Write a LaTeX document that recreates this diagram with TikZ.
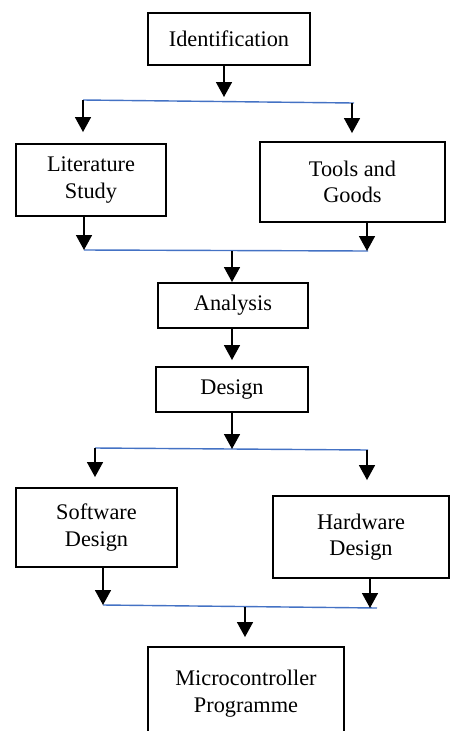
\documentclass[tikz,border=0pt]{standalone}
\usepackage{fontspec}
\setmainfont{Liberation Serif}
\usetikzlibrary{arrows.meta}
\definecolor{busblue}{RGB}{68,114,196}

\begin{document}
\begin{tikzpicture}[x=0.02cm, y=-0.02cm,
	box/.style={draw=black, line width=1.1pt, inner sep=0pt, align=center, font=\fontsize{12.7}{15}\selectfont},
	arr/.style={line width=0.9pt, -{Triangle[width=0.32cm, length=0.3cm]}},
	bus/.style={busblue, line width=0.8pt}]
	%page size, the last box runs off the bottom
	\useasboundingbox (0,0) rectangle (450,731);
	\clip (0,0) rectangle (450,731);

	%boxes
	\node[box, minimum width=3.24cm, minimum height=1.04cm] (ident) at (229,39) {Identification};
	\node[box, minimum width=3.0cm, minimum height=1.44cm] (lit) at (91,180) {Literature\\Study};
	\node[box, minimum width=3.7cm, minimum height=1.6cm] (tools) at (352.5,182) {Tools and\\Goods};
	\node[box, minimum width=3.0cm, minimum height=0.9cm] (ana) at (233,305.5) {Analysis};
	\node[box, minimum width=3.04cm, minimum height=0.9cm] (des) at (232,389.5) {Design};
	\node[box, minimum width=3.22cm, minimum height=1.58cm] (soft) at (96.5,527.5) {Software\\Design};
	\node[box, minimum width=3.52cm, minimum height=1.64cm] (hard) at (361,537) {Hardware\\Design};
	\node[box, minimum width=3.92cm, minimum height=1.86cm] (micro) at (246,693.5) {Microcontroller\\Programme};

	%blue split and join lines
	\coordinate (b1l) at (83,100);  \coordinate (b1m) at (224,101); \coordinate (b1r) at (352,103);
	\coordinate (b2l) at (84,250);  \coordinate (b2m) at (232,251); \coordinate (b2r) at (367,251);
	\coordinate (b3l) at (95,448);  \coordinate (b3m) at (232,449); \coordinate (b3r) at (367,450);
	\coordinate (b4l) at (103,605); \coordinate (b4m) at (245,607); \coordinate (b4r) at (370,608);
	\draw[bus] (b1l) -- (354,103);
	\draw[bus] (b2l) -- (368,251);
	\draw[bus] (b3l) -- (368,450);
	\draw[bus] (b4l) -- (377,608);

	%arrows, top half
	\draw[arr, shorten >=0.08cm] (ident.south -| b1m) -- (b1m);
	\draw[arr, shorten >=0.22cm] (b1l) -- (b1l |- lit.north);
	\draw[arr, shorten >=0.16cm] (b1r) -- (b1r |- tools.north);
	\draw[arr] (lit.south -| b2l) -- (b2l);
	\draw[arr] (tools.south -| b2r) -- (b2r);
	\draw[arr] (b2m) -- (b2m |- ana.north);
	\draw[arr, shorten >=0.12cm] (ana.south -| des.north) -- (des.north);
	\draw[arr] (des.south) -- (b3m);

	%arrows, bottom half
	\draw[arr, shorten >=0.2cm] (b3l) -- (b3l |- soft.north);
	\draw[arr, shorten >=0.3cm] (b3r) -- (b3r |- hard.north);
	\draw[arr] (soft.south -| b4l) -- (b4l);
	\draw[arr] (hard.south -| b4r) -- (b4r);
	\draw[arr, shorten >=0.18cm] (b4m) -- (b4m |- micro.north);
\end{tikzpicture}
\end{document}
